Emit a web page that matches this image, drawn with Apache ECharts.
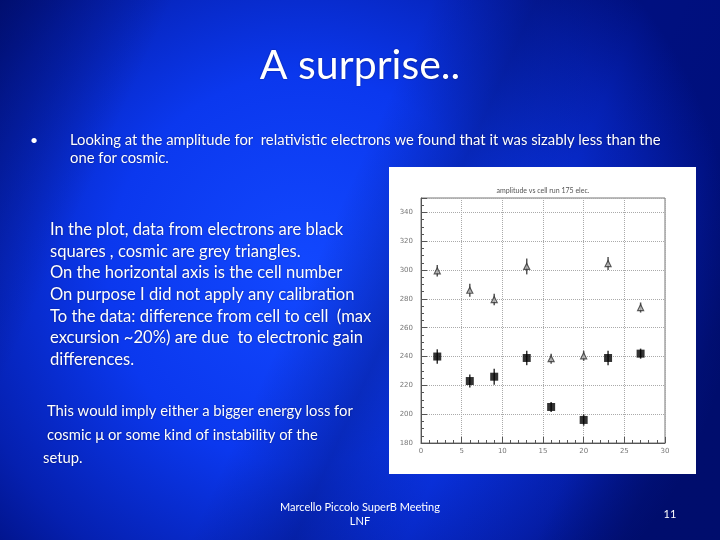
<!DOCTYPE html>
<html>
<head>
<meta charset="utf-8">
<script src="https://cdn.jsdelivr.net/npm/echarts@6/dist/echarts.min.js"></script>
<style>
html,body{margin:0;padding:0;background:#0a2ad0;}
#c{width:720px;height:540px;}
</style>
</head>
<body>
<div id="c"></div>
<script>
// ---- data ----
const cells = [2, 6, 9, 13, 16, 20, 23, 27];
const cosmicValues = [299.5, 286, 279.5, 302.5, 238.5, 240.5, 304.5, 274];
const cosmicErrors = [4, 4.5, 4, 5.5, 3.5, 3.5, 4.5, 3.5];
const electronValues = [240, 223, 226, 239, 205, 196, 239, 242];
const electronErrors = [5, 4.5, 5.5, 5, 3.5, 4, 5, 3.5];
const xTicks = [0, 5, 10, 15, 20, 25, 30];
const yTicks = [180, 200, 220, 240, 260, 280, 300, 320, 340];

const chart = echarts.init(document.getElementById('c'), null, {renderer: 'canvas'});

function pairs(xs, ys) { return xs.map((x, i) => [x, ys[i]]); }
function errData(xs, ys, es) { return xs.map((x, i) => [x, ys[i] - es[i], ys[i] + es[i]]); }

function errRender(color) {
  return function (params, api) {
    const x = api.value(0);
    const lo = api.coord([x, api.value(1)]);
    const hi = api.coord([x, api.value(2)]);
    return {
      type: 'line',
      shape: {x1: lo[0], y1: lo[1], x2: hi[0], y2: hi[1]},
      style: {stroke: color, lineWidth: 1.5}
    };
  };
}

const textShadow = {textShadowColor: 'rgba(0,0,40,0.5)', textShadowBlur: 2};
const fontFam = 'Lato, "Open Sans", sans-serif';

const bodyLines = [
  'In the plot, data from electrons are black',
  'squares , cosmic are grey triangles.',
  'On the horizontal axis is the cell number',
  'On purpose I did not apply any calibration',
  'To the data: difference from cell to cell  (max',
  'excursion ~20%) are due  to electronic gain',
  'differences.'
];
const bodyGraphics = bodyLines.map((t, i) => ({
  type: 'text', left: 50, top: 221 + i * 21.7,
  style: Object.assign({text: t, fill: '#ffffff', font: '16.6px ' + fontFam}, textShadow)
}));

const option = {
  backgroundColor: {
    type: 'radial', x: 0.42, y: 0.5, r: 0.8,
    colorStops: [
      {offset: 0, color: '#1248ff'},
      {offset: 0.45, color: '#0b38ee'},
      {offset: 0.8, color: '#0520b0'},
      {offset: 1, color: '#001080'}
    ]
  },
  graphic: [
    {type: 'rect', left: 0, top: 0, z: -10, silent: true,
      shape: {width: 720, height: 540},
      style: {fill: {type: 'linear', x: 0, y: 0, x2: 1, y2: 0.6, colorStops: [
        {offset: 0, color: 'rgba(0,10,90,0.6)'},
        {offset: 0.2, color: 'rgba(0,10,90,0.0)'},
        {offset: 0.5, color: 'rgba(0,10,90,0.0)'},
        {offset: 0.62, color: 'rgba(0,10,90,0.35)'},
        {offset: 0.75, color: 'rgba(0,10,90,0.0)'},
        {offset: 0.9, color: 'rgba(0,10,90,0.1)'},
        {offset: 1, color: 'rgba(0,10,90,0.5)'}
      ]}}},
    {type: 'text', left: 'center', top: 45,
      style: Object.assign({text: 'A surprise..', fill: '#ffffff', font: '41px ' + fontFam}, textShadow)},
    {type: 'text', left: 30, top: 133,
      style: {text: '•', fill: '#ffffff', font: '14px ' + fontFam}},
    {type: 'text', left: 70, top: 133,
      style: Object.assign({text: 'Looking at the amplitude for  relativistic electrons we found that it was sizably less than the', fill: '#ffffff', font: '14.8px ' + fontFam}, textShadow)},
    {type: 'text', left: 70, top: 151,
      style: Object.assign({text: 'one for cosmic.', fill: '#ffffff', font: '14.8px ' + fontFam}, textShadow)},
    ...bodyGraphics,
    {type: 'text', left: 47, top: 404,
      style: Object.assign({text: 'This would imply either a bigger energy loss for', fill: '#ffffff', font: '14.8px ' + fontFam}, textShadow)},
    {type: 'text', left: 47, top: 428,
      style: Object.assign({text: 'cosmic μ or some kind of instability of the', fill: '#ffffff', font: '14.8px ' + fontFam}, textShadow)},
    {type: 'text', left: 43, top: 451,
      style: Object.assign({text: 'setup.', fill: '#ffffff', font: '14.8px ' + fontFam}, textShadow)},
    {type: 'text', x: 360, y: 502,
      style: {text: 'Marcello Piccolo SuperB Meeting', fill: '#ffffff', font: '11px ' + fontFam, align: 'center'}},
    {type: 'text', x: 360, y: 516,
      style: {text: 'LNF', fill: '#ffffff', font: '11px ' + fontFam, align: 'center'}},
    {type: 'text', x: 670, y: 509,
      style: {text: '11', fill: '#ffffff', font: '11px ' + fontFam, align: 'center'}},
    // white plot panel
    {type: 'rect', left: 389, top: 167, z: -1, silent: true,
      shape: {width: 307, height: 307}, style: {fill: '#ffffff'}},
    {type: 'text', x: 543, y: 187, z: 5,
      style: {text: 'amplitude vs cell run 175 elec.', fill: '#555555', font: '7px ' + fontFam, align: 'center'}}
  ],
  grid: {left: 421, top: 198, width: 244, height: 245, show: true,
    borderColor: '#777777', borderWidth: 1, backgroundColor: 'transparent'},
  xAxis: {
    type: 'value', min: 0, max: 30, interval: 5,
    axisLine: {lineStyle: {color: '#555555'}},
    axisTick: {inside: true, length: 6, lineStyle: {color: '#555555'}},
    minorTick: {show: true, splitNumber: 5, length: 3, lineStyle: {color: '#555555'}},
    axisLabel: {color: '#777777', fontSize: 7, margin: 5, fontFamily: 'DejaVu Sans',
      formatter: v => xTicks.includes(v) ? String(v) : ''},
    splitLine: {show: true, lineStyle: {color: '#aaaaaa', type: 'dotted', width: 1}}
  },
  yAxis: {
    type: 'value', min: 180, max: 350, interval: 20,
    axisLine: {lineStyle: {color: '#555555'}},
    axisTick: {inside: true, length: 6, lineStyle: {color: '#555555'}},
    minorTick: {show: true, splitNumber: 4, length: 3, lineStyle: {color: '#555555'}},
    axisLabel: {color: '#777777', fontSize: 7, margin: 8, fontFamily: 'DejaVu Sans',
      formatter: v => yTicks.includes(v) ? String(v) : ''},
    splitLine: {show: true, lineStyle: {color: '#aaaaaa', type: 'dotted', width: 1}}
  },
  series: [
    {type: 'custom', name: 'cosmic err', data: errData(cells, cosmicValues, cosmicErrors),
      renderItem: errRender('#555555'), encode: {x: 0, y: [1, 2]}, z: 2, silent: true},
    {type: 'custom', name: 'electron err', data: errData(cells, electronValues, electronErrors),
      renderItem: errRender('#333333'), encode: {x: 0, y: [1, 2]}, z: 2, silent: true},
    {type: 'scatter', name: 'cosmic', data: pairs(cells, cosmicValues), symbol: 'triangle',
      symbolSize: 6, itemStyle: {color: '#bbbbbb', borderColor: '#333333', borderWidth: 1.2}, z: 3},
    {type: 'scatter', name: 'electrons', data: pairs(cells, electronValues), symbol: 'rect',
      symbolSize: 8, itemStyle: {color: '#000000'}, z: 3}
  ]
};
chart.setOption(option);
</script>
</body>
</html>
